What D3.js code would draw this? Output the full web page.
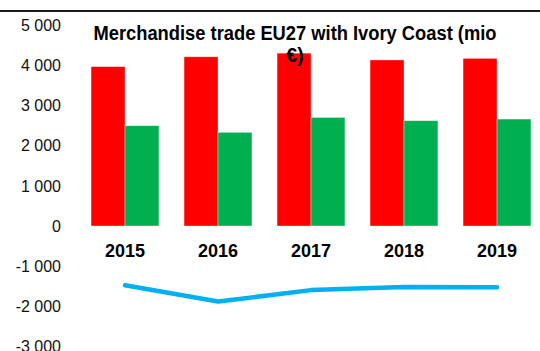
<!DOCTYPE html>
<html>
<head>
<meta charset="utf-8">
<script src="https://cdn.jsdelivr.net/npm/d3@7"></script>
<style>
  html, body { margin: 0; padding: 0; background: #fff; }
  svg { display: block; }
</style>
</head>
<body>
<svg id="chart" width="540" height="351"></svg>
<script>
// Merchandise trade EU27 with Ivory Coast, million euro
const years = ["2015", "2016", "2017", "2018", "2019"];
const imports = [3965, 4210, 4300, 4130, 4170];
const exports = [2495, 2330, 2700, 2620, 2660];
const balance = [-1475, -1880, -1595, -1515, -1525];
const yTicks = [5000, 4000, 3000, 2000, 1000, 0, -1000, -2000, -3000];
const tickLabels = ["5 000", "4 000", "3 000", "2 000", "1 000", "0", "-1 000", "-2 000", "-3 000"];
const titleLines = ["Merchandise trade EU27 with Ivory Coast (mio", "€)"];

const svg = d3.select("#chart");
const W = 540;

const y = d3.scaleLinear().domain([-3000, 5000]).range([346.6, 25]);
const x = d3.scaleBand().domain(years).range([78.5, 543.5])
  .paddingInner(0.27).paddingOuter(0.135);
const sub = d3.scaleBand().domain(["imp", "exp"]).range([0, x.bandwidth()]);

// top rule
svg.append("line")
  .attr("x1", 0).attr("x2", W).attr("y1", 11).attr("y2", 11)
  .attr("stroke", "#1a1a1a").attr("stroke-width", 2);

// value axis labels
svg.append("g").selectAll("text")
  .data(yTicks)
  .join("text")
  .attr("x", 61)
  .attr("y", d => y(d))
  .attr("dy", "0.36em")
  .attr("text-anchor", "end")
  .attr("font-family", "Liberation Sans, Arial, sans-serif")
  .attr("font-size", 16)
  .attr("fill", "#111")
  .text((d, i) => tickLabels[i]);

// bars
const series = [
  { key: "imp", values: imports, color: "#ff0000" },
  { key: "exp", values: exports, color: "#00b050" }
];
series.forEach(s => {
  svg.append("g").selectAll("rect")
    .data(years)
    .join("rect")
    .attr("x", d => x(d) + sub(s.key))
    .attr("width", sub.bandwidth())
    .attr("y", (d, i) => y(Math.max(0, s.values[i])))
    .attr("height", (d, i) => Math.abs(y(s.values[i]) - y(0)))
    .attr("fill", s.color)
    .attr("stroke", "rgba(255,255,255,0.45)")
    .attr("stroke-width", 0.8);
});

// category labels
svg.append("g").selectAll("text")
  .data(years)
  .join("text")
  .attr("x", d => x(d) + x.bandwidth() / 2)
  .attr("y", 257)
  .attr("text-anchor", "middle")
  .attr("font-family", "Liberation Sans, Arial, sans-serif")
  .attr("font-weight", "bold")
  .attr("font-size", 18)
  .attr("fill", "#000")
  .text(d => d);

// trade balance line
const line = d3.line()
  .x((d, i) => x(years[i]) + x.bandwidth() / 2)
  .y(d => y(d));
svg.append("path")
  .datum(balance)
  .attr("d", line)
  .attr("fill", "none")
  .attr("stroke", "#00b0f0")
  .attr("stroke-width", 4.5)
  .attr("stroke-linecap", "round")
  .attr("stroke-linejoin", "round");

// title
const title = svg.append("g")
  .attr("font-family", "Liberation Sans, Arial, sans-serif")
  .attr("font-weight", "bold")
  .attr("font-size", 19.5)
  .attr("fill", "#000")
  .attr("text-anchor", "middle");
title.append("text")
  .attr("x", 295).attr("y", 39.5)
  .attr("textLength", 403).attr("lengthAdjust", "spacingAndGlyphs")
  .text(titleLines[0]);
title.append("text")
  .attr("x", 295).attr("y", 61.5)
  .text(titleLines[1]);
</script>
</body>
</html>
